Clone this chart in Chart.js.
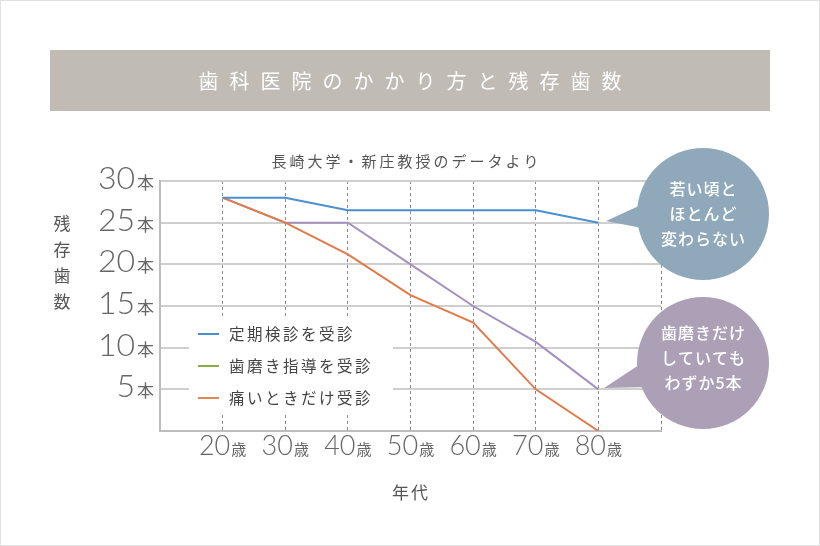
<!DOCTYPE html>
<html>
<head>
<meta charset="utf-8">
<script src="https://cdn.jsdelivr.net/npm/chart.js@4"></script>
<style>
  html, body { margin: 0; padding: 0; background: #fff; }
  #wrap { width: 818px; height: 544px; border: 1px solid #e2e2e2; }
</style>
</head>
<body>
<div id="wrap"><canvas id="teethChart" width="818" height="544"></canvas></div>
<script>
// データ
const ages = [20, 30, 40, 50, 60, 70, 80];
const xTickLabels = ['20', '30', '40', '50', '60', '70', '80'];
const yTickValues = [30, 25, 20, 15, 10, 5];
const seriesNames = ['定期検診を受診', '歯磨き指導を受診', '痛いときだけ受診'];
const regularCheckup = [28, 28, 26.5, 26.5, 26.5, 26.5, 25];
const brushingOnly = [28, 25, 25, 20, 15, 10.7, 5];
const painOnly = [28, 25, 21.2, 16.3, 13, 5, 0];

const JP = '"Noto Sans CJK JP", "Noto Sans", sans-serif';
const NUM = 'Lato, "Noto Sans", sans-serif';

function pts(vals) {
    return ages.map((a, i) => ({ x: a, y: vals[i] }));
}

function spaced(ctx, text, cx, cy, gap) {
    // 1文字ずつ描いて字間を空ける
    let w = 0;
    const ws = [...text].map(c => ctx.measureText(c).width);
    ws.forEach(v => w += v);
    w += gap * (ws.length - 1);
    let x = cx - w / 2;
    ctx.textAlign = 'left';
    [...text].forEach((c, i) => {
        ctx.fillText(c, x, cy);
        x += ws[i] + gap;
    });
}

function bubble(ctx, cx, cy, r, tail, color, lines, lineY) {
    ctx.fillStyle = color;
    ctx.beginPath();
    ctx.arc(cx, cy, r, 0, Math.PI * 2);
    ctx.fill();
    ctx.beginPath();
    ctx.moveTo(tail[0][0], tail[0][1]);
    ctx.lineTo(tail[1][0], tail[1][1]);
    ctx.lineTo(tail[2][0], tail[2][1]);
    ctx.closePath();
    ctx.fill();
    ctx.fillStyle = '#fff';
    ctx.font = '500 16px ' + JP;
    ctx.textBaseline = 'middle';
    lines.forEach((t, i) => spaced(ctx, t, cx, lineY[i], 1));
}

const decor = {
    id: 'decor',
    beforeDatasetsDraw(chart) {
        const ctx = chart.ctx;
        // 凡例
        ctx.save();
        ctx.fillStyle = '#fff';
        ctx.fillRect(188, 316, 204, 96);
        chart.data.datasets.forEach(ds => {
            const y = 333 + ds.legendRow * 32;
            ctx.strokeStyle = ds.legendColor;
            ctx.lineWidth = 2;
            ctx.beginPath();
            ctx.moveTo(197, y);
            ctx.lineTo(218, y);
            ctx.stroke();
            ctx.fillStyle = '#444';
            ctx.font = '15.5px ' + JP;
            ctx.textBaseline = 'middle';
            const n = [...ds.label].length;
            spaced(ctx, ds.label, 228 + (ctx.measureText(ds.label).width + 2.5 * (n - 1)) / 2, y, 2.5);
        });
        ctx.restore();
    },
    afterDraw(chart) {
        const ctx = chart.ctx;
        const xs = chart.scales.x, ys = chart.scales.y;
        ctx.save();
        // タイトル帯
        ctx.fillStyle = '#c1bbb6';
        ctx.fillRect(49, 49, 720, 61);
        ctx.fillStyle = '#fff';
        ctx.font = '20px ' + JP;
        ctx.textBaseline = 'middle';
        spaced(ctx, '歯科医院のかかり方と残存歯数', 409, 80, 11);

        // サブタイトル
        ctx.fillStyle = '#555';
        ctx.font = '15px ' + JP;
        spaced(ctx, '長崎大学・新庄教授のデータより', 404, 160, 3);

        // 縦軸タイトル
        ctx.font = '17px ' + JP;
        ['残', '存', '歯', '数'].forEach((c, i) => {
            ctx.textAlign = 'center';
            ctx.fillText(c, 61, 223 + i * 26);
        });
        // 横軸タイトル
        spaced(ctx, '年代', 409, 492, 2);

        // Y目盛り
        ctx.fillStyle = '#666';
        ctx.textBaseline = 'alphabetic';
        yTickValues.forEach(v => {
            const y = ys.getPixelForValue(v);
            ctx.textAlign = 'right';
            ctx.font = '17px ' + JP;
            ctx.fillText('本', 153, y + 8);
            ctx.font = '300 32px ' + NUM;
            ctx.fillText(String(v), 134, y + 8);
        });
        // X目盛り
        xTickLabels.forEach((t, i) => {
            const x = xs.getPixelForValue(ages[i]);
            ctx.font = '300 27px ' + NUM;
            const wn = ctx.measureText(t).width;
            ctx.font = '15px ' + JP;
            const wk = ctx.measureText('歳').width;
            const left = x - (wn + wk + 1) / 2;
            ctx.textAlign = 'left';
            ctx.font = '300 27px ' + NUM;
            ctx.fillText(t, left, 454);
            ctx.font = '15px ' + JP;
            ctx.fillText('歳', left + wn + 1, 454);
        });

        // 吹き出し
        bubble(ctx, 702, 213, 66, [[640, 204], [605, 220], [646, 228]], '#8fa9ba',
            ['若い頃と', 'ほとんど', '変わらない'], [188, 213, 238]);
        bubble(ctx, 702, 362, 66, [[644, 360], [603, 387], [652, 386]], '#aca0b7',
            ['歯磨きだけ', 'していても', 'わずか5本'], [332, 357, 382]);
        ctx.restore();
    }
};

new Chart(document.getElementById('teethChart').getContext('2d'), {
    type: 'line',
    data: {
        datasets: [{
            label: seriesNames[0],
            data: pts(regularCheckup),
            borderColor: '#4a8fcf',
            legendColor: '#4a8fcf',
            legendRow: 0,
            order: 0
        }, {
            label: seriesNames[1],
            data: pts(brushingOnly),
            borderColor: '#a290bf',
            legendColor: '#8dab4c',
            legendRow: 1,
            order: 2
        }, {
            label: seriesNames[2],
            data: pts(painOnly),
            borderColor: '#e17b48',
            legendColor: '#e2875a',
            legendRow: 2,
            order: 1
        }]
    },
    options: {
        responsive: false,
        animation: false,
        events: [],
        elements: {
            line: { borderWidth: 2, tension: 0 },
            point: { radius: 0 }
        },
        layout: {
            padding: { left: 159, right: 158, top: 180, bottom: 114 }
        },
        plugins: {
            legend: { display: false },
            tooltip: { enabled: false }
        },
        scales: {
            x: {
                type: 'linear',
                min: 10,
                max: 90,
                ticks: { display: false, stepSize: 10 },
                grid: {
                    drawTicks: false,
                    color: c => c.tick.value === 10 ? 'rgba(0,0,0,0)' : '#8a8a8a',
                    lineWidth: 1
                },
                border: { display: true, color: '#bdbdbd', width: 2, dash: [3, 3] }
            },
            y: {
                min: 0,
                max: 30,
                ticks: { display: false, stepSize: 5 },
                grid: { drawTicks: false, color: '#cfcfcf', lineWidth: 2 },
                border: { display: true, color: '#bdbdbd', width: 2 }
            }
        }
    },
    plugins: [decor]
});
</script>
</body>
</html>
